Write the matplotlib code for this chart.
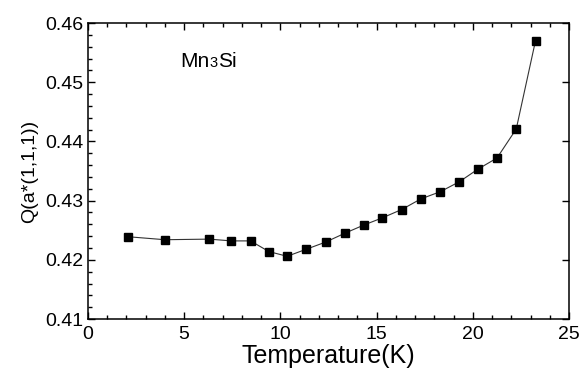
import matplotlib
matplotlib.use("Agg")
import matplotlib.pyplot as plt
from matplotlib.ticker import MultipleLocator
from matplotlib.transforms import offset_copy

plt.rcParams['font.family'] = ['Liberation Sans', 'DejaVu Sans']

# data
temp = [2.1, 4.0, 6.3, 7.45, 8.45, 9.4, 10.35, 11.35, 12.35, 13.35, 14.35,
        15.3, 16.3, 17.3, 18.3, 19.3, 20.25, 21.25, 22.25, 23.25]
q = [0.4239, 0.4234, 0.4235, 0.4232, 0.4232, 0.4214, 0.4206, 0.4218, 0.4230,
     0.4245, 0.4259, 0.4271, 0.4285, 0.4303, 0.4315, 0.4332, 0.4353, 0.4372,
     0.4421, 0.4570]

fig = plt.figure(figsize=(5.82, 3.71), dpi=100)
ax = fig.add_axes([0.151, 0.140, 0.827, 0.798])

ax.plot(temp, q, '-', color='#333333', lw=0.8)
ax.plot(temp, q, 's', color='black', ms=5.5, mec='black')

ax.set_xlim(0, 25)
ax.set_ylim(0.41, 0.46)
ax.xaxis.set_major_locator(MultipleLocator(5))
ax.xaxis.set_minor_locator(MultipleLocator(1))
ax.yaxis.set_major_locator(MultipleLocator(0.01))
ax.yaxis.set_minor_locator(MultipleLocator(0.002))
ax.yaxis.set_major_formatter(plt.FormatStrFormatter('%.2f'))

ax.tick_params(which='both', direction='in', top=True, right=True,
               labelsize=14, width=1.0, pad=3)
ax.tick_params(axis='x', which='major', pad=5)
ax.tick_params(which='major', length=5)
ax.tick_params(which='minor', length=3)
ax.tick_params(axis='y', which='minor', right=False)
for s in ax.spines.values():
    s.set_linewidth(1.1)

ax.set_xlabel('Temperature(K)', fontsize=18, labelpad=1)
ax.set_ylabel('Q(a*(1,1,1))', fontsize=14, labelpad=5)

# "Mn3Si" with a small 3 on the same baseline
t1 = ax.text(4.8, 0.4525, 'Mn', fontsize=15, va='baseline', ha='left')
fig.canvas.draw()
r = fig.canvas.get_renderer()
w1 = t1.get_window_extent(r).width * 72 / fig.dpi
tr = offset_copy(t1.get_transform(), fig=fig, x=w1, y=0, units='points')
t2 = ax.text(4.8, 0.4525, '3', fontsize=10.5, va='baseline', ha='left', transform=tr)
fig.canvas.draw()
w2 = t2.get_window_extent(r).width * 72 / fig.dpi
tr2 = offset_copy(t1.get_transform(), fig=fig, x=w1 + w2, y=0, units='points')
ax.text(4.8, 0.4525, 'Si', fontsize=15, va='baseline', ha='left', transform=tr2)

fig.savefig('out.png', dpi=100)
